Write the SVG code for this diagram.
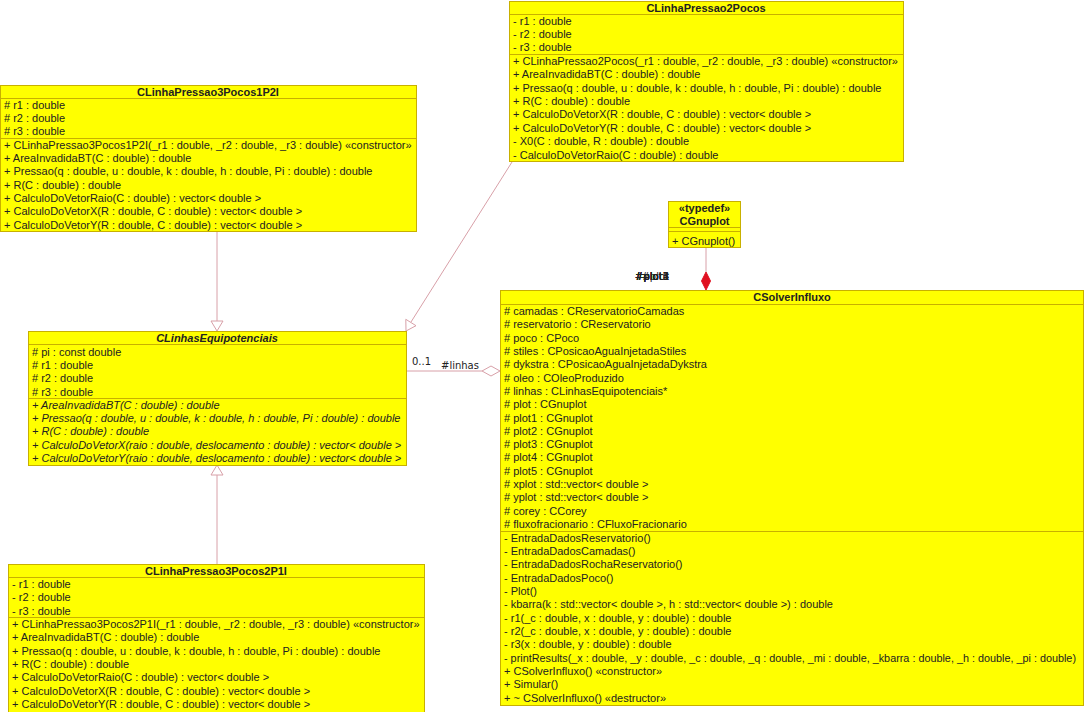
<svg xmlns="http://www.w3.org/2000/svg" width="1087" height="712" viewBox="0 0 1087 712">
  <defs>
    <style>
      .box { fill: #ffff00; stroke: #c8b000; stroke-width: 1; }
      .div { stroke: #c8b000; stroke-width: 1; }
      .t { font-family: "Liberation Sans", Arial, sans-serif; font-size: 11px; fill: #222; }
      .b { font-weight: bold; }
      .i { font-style: italic; }
      .c { text-anchor: middle; }
      .e { text-anchor: end; }
      .lnk { stroke: #d8a0a8; stroke-width: 1; fill: none; }
      .lbl { font-family: "DejaVu Sans", "Liberation Sans", sans-serif; font-size: 10px; fill: #222; }
    </style>
  </defs>
  <rect width="1087" height="712" fill="#ffffff"/>

  <!-- connectors -->
  <g id="connectors">
    <!-- generalisation: CLinhaPressao3Pocos1P2I -> CLinhasEquipotenciais -->
    <line class="lnk" x1="217" y1="231" x2="217" y2="321"/>
    <polygon class="lnk" fill="#ffffff" points="217,331 211,321 223,321"/>
    <!-- generalisation: CLinhaPressao3Pocos2P1I -> CLinhasEquipotenciais -->
    <line class="lnk" x1="217" y1="564" x2="217" y2="475"/>
    <polygon class="lnk" fill="#ffffff" points="217,465 211,475 223,475"/>
    <!-- generalisation: CLinhaPressao2Pocos -> CLinhasEquipotenciais -->
    <line class="lnk" x1="512" y1="162" x2="411" y2="322"/>
    <polygon class="lnk" fill="#ffffff" points="406,331 405.8,319.3 416,325.7"/>
    <!-- aggregation: CSolverInfluxo <>- CLinhasEquipotenciais -->
    <line class="lnk" x1="406" y1="371" x2="482" y2="371"/>
    <polygon class="lnk" fill="#ffffff" points="500,371 491,366 482,371 491,376"/>
    <text class="lbl" x="412" y="365">0..1</text>
    <text class="lbl" x="441" y="369">#linhas</text>
    <!-- composition: CSolverInfluxo <>- CGnuplot (six roles share one anchor) -->
    <line class="lnk" x1="706" y1="248" x2="706" y2="272"/>
    <polygon fill="#e01020" stroke="#e01020" points="706,272 710.5,281 706,290 701.5,281"/>
    <text class="lbl e" x="669" y="280">#plot</text>
    <text class="lbl e" x="669" y="280">#plot1</text>
    <text class="lbl e" x="669" y="280">#plot2</text>
    <text class="lbl e" x="669" y="280">#plot3</text>
    <text class="lbl e" x="669" y="280">#plot4</text>
    <text class="lbl e" x="669" y="280">#plot5</text>
  </g>

  <!-- CLinhaPressao3Pocos1P2I -->
  <g id="CLinhaPressao3Pocos1P2I">
    <rect class="box" x="0.5" y="85.5" width="416" height="146"/>
    <line class="div" x1="0.5" y1="98.5" x2="416.5" y2="98.5"/>
    <line class="div" x1="0.5" y1="138.5" x2="416.5" y2="138.5"/>
    <text class="t b c" x="208" y="96">CLinhaPressao3Pocos1P2I</text>
    <text class="t" x="4" y="109"># r1 : double</text>
    <text class="t" x="4" y="122"># r2 : double</text>
    <text class="t" x="4" y="135"># r3 : double</text>
    <text class="t" x="4" y="149">+ CLinhaPressao3Pocos1P2I(_r1 : double, _r2 : double, _r3 : double) «constructor»</text>
    <text class="t" x="4" y="162">+ AreaInvadidaBT(C : double) : double</text>
    <text class="t" x="4" y="175">+ Pressao(q : double, u : double, k : double, h : double, Pi : double) : double</text>
    <text class="t" x="4" y="189">+ R(C : double) : double</text>
    <text class="t" x="4" y="202">+ CalculoDoVetorRaio(C : double) : vector&lt; double &gt;</text>
    <text class="t" x="4" y="215">+ CalculoDoVetorX(R : double, C : double) : vector&lt; double &gt;</text>
    <text class="t" x="4" y="229">+ CalculoDoVetorY(R : double, C : double) : vector&lt; double &gt;</text>
  </g>

  <!-- CLinhaPressao2Pocos -->
  <g id="CLinhaPressao2Pocos">
    <rect class="box" x="509.5" y="1.5" width="394" height="160"/>
    <line class="div" x1="509.5" y1="14.5" x2="903.5" y2="14.5"/>
    <line class="div" x1="509.5" y1="54.5" x2="903.5" y2="54.5"/>
    <text class="t b c" x="706" y="12">CLinhaPressao2Pocos</text>
    <text class="t" x="513" y="25">- r1 : double</text>
    <text class="t" x="513" y="38">- r2 : double</text>
    <text class="t" x="513" y="51">- r3 : double</text>
    <text class="t" x="513" y="65">+ CLinhaPressao2Pocos(_r1 : double, _r2 : double, _r3 : double) «constructor»</text>
    <text class="t" x="513" y="78">+ AreaInvadidaBT(C : double) : double</text>
    <text class="t" x="513" y="92">+ Pressao(q : double, u : double, k : double, h : double, Pi : double) : double</text>
    <text class="t" x="513" y="105">+ R(C : double) : double</text>
    <text class="t" x="513" y="118">+ CalculoDoVetorX(R : double, C : double) : vector&lt; double &gt;</text>
    <text class="t" x="513" y="132">+ CalculoDoVetorY(R : double, C : double) : vector&lt; double &gt;</text>
    <text class="t" x="513" y="145">- X0(C : double, R : double) : double</text>
    <text class="t" x="513" y="159">- CalculoDoVetorRaio(C : double) : double</text>
  </g>

  <!-- CGnuplot -->
  <g id="CGnuplot">
    <rect class="box" x="668.5" y="201.5" width="72" height="46"/>
    <line class="div" x1="668.5" y1="227.5" x2="740.5" y2="227.5"/>
    <line class="div" x1="668.5" y1="231.5" x2="740.5" y2="231.5"/>
    <text class="t b c" x="704.5" y="212">«typedef»</text>
    <text class="t b c" x="704.5" y="225">CGnuplot</text>
    <text class="t" x="672" y="245">+ CGnuplot()</text>
  </g>

  <!-- CLinhasEquipotenciais -->
  <g id="CLinhasEquipotenciais">
    <rect class="box" x="28.5" y="331.5" width="378" height="134"/>
    <line class="div" x1="28.5" y1="344.5" x2="406.5" y2="344.5"/>
    <line class="div" x1="28.5" y1="398.5" x2="406.5" y2="398.5"/>
    <text class="t b i c" x="217" y="342">CLinhasEquipotenciais</text>
    <text class="t" x="32" y="356"># pi : const double</text>
    <text class="t" x="32" y="369"># r1 : double</text>
    <text class="t" x="32" y="382"># r2 : double</text>
    <text class="t" x="32" y="396"># r3 : double</text>
    <text class="t i" x="32" y="409">+ AreaInvadidaBT(C : double) : double</text>
    <text class="t i" x="32" y="422">+ Pressao(q : double, u : double, k : double, h : double, Pi : double) : double</text>
    <text class="t i" x="32" y="435">+ R(C : double) : double</text>
    <text class="t i" x="32" y="449">+ CalculoDoVetorX(raio : double, deslocamento : double) : vector&lt; double &gt;</text>
    <text class="t i" x="32" y="462">+ CalculoDoVetorY(raio : double, deslocamento : double) : vector&lt; double &gt;</text>
  </g>

  <!-- CSolverInfluxo -->
  <g id="CSolverInfluxo">
    <rect class="box" x="500.5" y="290.5" width="583" height="415"/>
    <line class="div" x1="500.5" y1="304.5" x2="1083.5" y2="304.5"/>
    <line class="div" x1="500.5" y1="531.5" x2="1083.5" y2="531.5"/>
    <text class="t b c" x="792" y="301">CSolverInfluxo</text>
    <text class="t" x="504" y="315"># camadas : CReservatorioCamadas</text>
    <text class="t" x="504" y="328"># reservatorio : CReservatorio</text>
    <text class="t" x="504" y="342"># poco : CPoco</text>
    <text class="t" x="504" y="355"># stiles : CPosicaoAguaInjetadaStiles</text>
    <text class="t" x="504" y="368"># dykstra : CPosicaoAguaInjetadaDykstra</text>
    <text class="t" x="504" y="382"># oleo : COleoProduzido</text>
    <text class="t" x="504" y="395"># linhas : CLinhasEquipotenciais*</text>
    <text class="t" x="504" y="408"># plot : CGnuplot</text>
    <text class="t" x="504" y="422"># plot1 : CGnuplot</text>
    <text class="t" x="504" y="435"># plot2 : CGnuplot</text>
    <text class="t" x="504" y="448"># plot3 : CGnuplot</text>
    <text class="t" x="504" y="461"># plot4 : CGnuplot</text>
    <text class="t" x="504" y="475"># plot5 : CGnuplot</text>
    <text class="t" x="504" y="488"># xplot : std::vector&lt; double &gt;</text>
    <text class="t" x="504" y="501"># yplot : std::vector&lt; double &gt;</text>
    <text class="t" x="504" y="515"># corey : CCorey</text>
    <text class="t" x="504" y="528"># fluxofracionario : CFluxoFracionario</text>
    <text class="t" x="504" y="542">- EntradaDadosReservatorio()</text>
    <text class="t" x="504" y="555">- EntradaDadosCamadas()</text>
    <text class="t" x="504" y="568">- EntradaDadosRochaReservatorio()</text>
    <text class="t" x="504" y="582">- EntradaDadosPoco()</text>
    <text class="t" x="504" y="595">- Plot()</text>
    <text class="t" x="504" y="608">- kbarra(k : std::vector&lt; double &gt;, h : std::vector&lt; double &gt;) : double</text>
    <text class="t" x="504" y="622">- r1(_c : double, x : double, y : double) : double</text>
    <text class="t" x="504" y="635">- r2(_c : double, x : double, y : double) : double</text>
    <text class="t" x="504" y="648">- r3(x : double, y : double) : double</text>
    <text class="t" x="504" y="662" textLength="572" lengthAdjust="spacingAndGlyphs">- printResults(_x : double, _y : double, _c : double, _q : double, _mi : double, _kbarra : double, _h : double, _pi : double)</text>
    <text class="t" x="504" y="675">+ CSolverInfluxo() «constructor»</text>
    <text class="t" x="504" y="688">+ Simular()</text>
    <text class="t" x="504" y="702">+ ~ CSolverInfluxo() «destructor»</text>
  </g>

  <!-- CLinhaPressao3Pocos2P1I -->
  <g id="CLinhaPressao3Pocos2P1I">
    <rect class="box" x="8.5" y="564.5" width="416" height="148"/>
    <line class="div" x1="8.5" y1="577.5" x2="424.5" y2="577.5"/>
    <line class="div" x1="8.5" y1="617.5" x2="424.5" y2="617.5"/>
    <text class="t b c" x="216" y="575">CLinhaPressao3Pocos2P1I</text>
    <text class="t" x="12" y="588">- r1 : double</text>
    <text class="t" x="12" y="601">- r2 : double</text>
    <text class="t" x="12" y="615">- r3 : double</text>
    <text class="t" x="12" y="628">+ CLinhaPressao3Pocos2P1I(_r1 : double, _r2 : double, _r3 : double) «constructor»</text>
    <text class="t" x="12" y="641">+ AreaInvadidaBT(C : double) : double</text>
    <text class="t" x="12" y="655">+ Pressao(q : double, u : double, k : double, h : double, Pi : double) : double</text>
    <text class="t" x="12" y="668">+ R(C : double) : double</text>
    <text class="t" x="12" y="681">+ CalculoDoVetorRaio(C : double) : vector&lt; double &gt;</text>
    <text class="t" x="12" y="695">+ CalculoDoVetorX(R : double, C : double) : vector&lt; double &gt;</text>
    <text class="t" x="12" y="708">+ CalculoDoVetorY(R : double, C : double) : vector&lt; double &gt;</text>
  </g>
</svg>
